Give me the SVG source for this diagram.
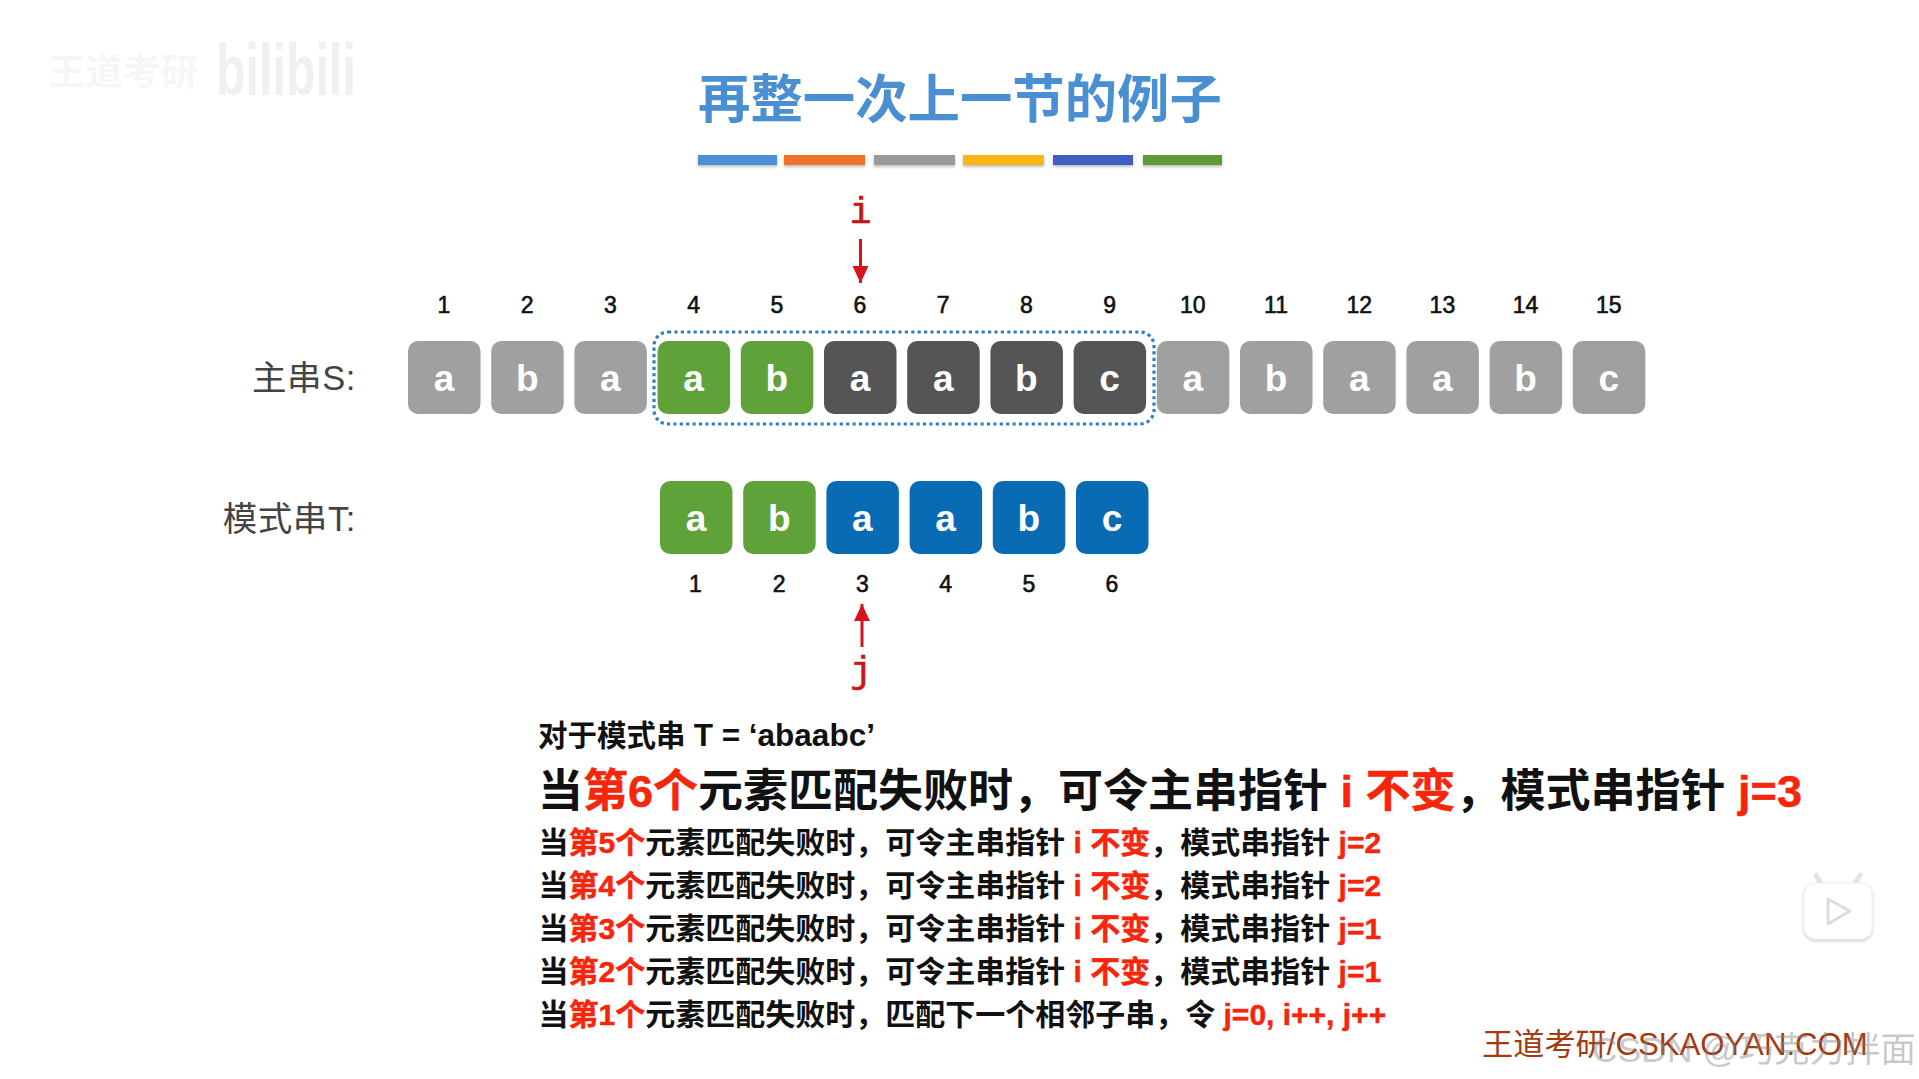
<svg xmlns="http://www.w3.org/2000/svg" width="1919" height="1079" viewBox="0 0 1919 1079">
<style>
text{font-family:"Liberation Sans","Noto Sans CJK SC",sans-serif}
.box{width:72.5px;height:73px;rx:10px;ry:10px}
.gray{fill:#a0a0a0}.green{fill:#5fa23a}.dark{fill:#555}.blue{fill:#0a6bb5}
.ch{font-size:37px;font-weight:700;fill:#fff;text-anchor:middle}
.num{font-size:23px;fill:#111;text-anchor:middle;stroke:#111;stroke-width:.6}
.lab{font-size:34.5px;fill:#444;text-anchor:end;letter-spacing:.6px}
.bar{height:10px;filter:url(#sh)}
.ptr{font-family:"Liberation Mono",monospace;font-size:36px;fill:#c8141a;text-anchor:middle;stroke:#c8141a;stroke-width:.7}
.conn{stroke:#d8141a;stroke-width:3;fill:none;marker-end:url(#ah)}
.r{fill:#f5260c;stroke:#f5260c;stroke-width:.5}
.t{font-weight:700;fill:#111}
.s{font-size:30px}
</style>
<defs>
<filter id="sh" x="-5%" y="-30%" width="110%" height="190%"><feDropShadow dx="0" dy="2" stdDeviation="1.5" flood-color="#000" flood-opacity=".25"/></filter>
<filter id="ps" x="-20%" y="-20%" width="140%" height="140%"><feDropShadow dx="0" dy="1.5" stdDeviation="1.5" flood-color="#000" flood-opacity=".22"/></filter>
<marker id="ah" markerUnits="userSpaceOnUse" markerWidth="18" markerHeight="18" refX="17" refY="8" orient="auto"><path d="M0 0L17 8L0 16Z" fill="#d8141a"/></marker>
</defs>
<rect width="1919" height="1079" fill="#fff"/>
<g id="watermark-top" opacity=".75">
<text x="48" y="85" font-size="36" font-weight="700" fill="#f3f3f3" textLength="150" lengthAdjust="spacingAndGlyphs">王道考研</text>
<text x="216" y="95" font-size="72" font-weight="700" fill="#ececec" textLength="140" lengthAdjust="spacingAndGlyphs">bilibili</text>
</g>
<g id="title">
<text x="698" y="118" font-size="52.4" font-weight="700" fill="#4a8fd2">再整一次上一节的例子</text>
<rect class="bar" x="698" y="155" width="79" fill="#4a90d6"/>
<rect class="bar" x="784" y="155" width="81" fill="#f2722a"/>
<rect class="bar" x="874" y="155" width="81" fill="#9a9a9a"/>
<rect class="bar" x="963" y="155" width="81" fill="#fdb515"/>
<rect class="bar" x="1053" y="155" width="80" fill="#3c5fc0"/>
<rect class="bar" x="1143" y="155" width="79" fill="#5d9c33"/>
</g>
<g id="label-s"><text class="lab" x="356" y="390">主串S:</text></g>
<g id="label-t"><text class="lab" x="356" y="531">模式串T:</text></g>
<g id="s1"><rect class="box gray" x="408" y="341"/><text class="ch" x="444" y="391">a</text><text class="num" x="444" y="313">1</text></g>
<g id="s2"><rect class="box gray" x="491.2" y="341"/><text class="ch" x="527.2" y="391">b</text><text class="num" x="527.2" y="313">2</text></g>
<g id="s3"><rect class="box gray" x="574.4" y="341"/><text class="ch" x="610.4" y="391">a</text><text class="num" x="610.4" y="313">3</text></g>
<g id="s4"><rect class="box green" x="657.6" y="341"/><text class="ch" x="693.6" y="391">a</text><text class="num" x="693.6" y="313">4</text></g>
<g id="s5"><rect class="box green" x="740.8" y="341"/><text class="ch" x="776.8" y="391">b</text><text class="num" x="776.8" y="313">5</text></g>
<g id="s6"><rect class="box dark" x="824" y="341"/><text class="ch" x="860" y="391">a</text><text class="num" x="860" y="313">6</text></g>
<g id="s7"><rect class="box dark" x="907.2" y="341"/><text class="ch" x="943.2" y="391">a</text><text class="num" x="943.2" y="313">7</text></g>
<g id="s8"><rect class="box dark" x="990.4" y="341"/><text class="ch" x="1026.4" y="391">b</text><text class="num" x="1026.4" y="313">8</text></g>
<g id="s9"><rect class="box dark" x="1073.6" y="341"/><text class="ch" x="1109.6" y="391">c</text><text class="num" x="1109.6" y="313">9</text></g>
<g id="s10"><rect class="box gray" x="1156.8" y="341"/><text class="ch" x="1192.8" y="391">a</text><text class="num" x="1192.8" y="313">10</text></g>
<g id="s11"><rect class="box gray" x="1240" y="341"/><text class="ch" x="1276" y="391">b</text><text class="num" x="1276" y="313">11</text></g>
<g id="s12"><rect class="box gray" x="1323.2" y="341"/><text class="ch" x="1359.2" y="391">a</text><text class="num" x="1359.2" y="313">12</text></g>
<g id="s13"><rect class="box gray" x="1406.4" y="341"/><text class="ch" x="1442.4" y="391">a</text><text class="num" x="1442.4" y="313">13</text></g>
<g id="s14"><rect class="box gray" x="1489.6" y="341"/><text class="ch" x="1525.6" y="391">b</text><text class="num" x="1525.6" y="313">14</text></g>
<g id="s15"><rect class="box gray" x="1572.8" y="341"/><text class="ch" x="1608.8" y="391">c</text><text class="num" x="1608.8" y="313">15</text></g>
<g id="window"><rect x="654" y="332" width="500" height="92" rx="14" fill="none" stroke="#2f7fc1" stroke-width="3.2" stroke-dasharray="3.2 3.2"/></g>
<g id="t1"><rect class="box green" x="660" y="481"/><text class="ch" x="696" y="531">a</text><text class="num" x="695.5" y="592">1</text></g>
<g id="t2"><rect class="box green" x="743.2" y="481"/><text class="ch" x="779.2" y="531">b</text><text class="num" x="779.2" y="592">2</text></g>
<g id="t3"><rect class="box blue" x="826.4" y="481"/><text class="ch" x="862.4" y="531">a</text><text class="num" x="862.4" y="592">3</text></g>
<g id="t4"><rect class="box blue" x="909.6" y="481"/><text class="ch" x="945.6" y="531">a</text><text class="num" x="945.6" y="592">4</text></g>
<g id="t5"><rect class="box blue" x="992.8" y="481"/><text class="ch" x="1028.8" y="531">b</text><text class="num" x="1028.8" y="592">5</text></g>
<g id="t6"><rect class="box blue" x="1076" y="481"/><text class="ch" x="1112" y="531">c</text><text class="num" x="1112" y="592">6</text></g>
<g id="pointer-i"><text class="ptr" x="860.5" y="223">i</text></g>
<g id="pointer-j"><text class="ptr" x="861" y="682">j</text></g>
<g id="connectors">
<path class="conn" d="M860.5 239V283"/>
<path class="conn" d="M862 647V604"/>
</g>
<g id="notes">
<text class="t" x="538" y="746" font-size="29.5">对于模式串 <tspan font-size="31.5">T = ‘abaabc’</tspan></text>
<text class="t" x="538" y="807" font-size="45">当<tspan class="r">第6个</tspan>元素匹配失败时，可令主串指针 <tspan class="r">i 不变</tspan>，模式串指针 <tspan class="r">j=3</tspan></text>
<text class="t s" x="538.5" y="853">当<tspan class="r">第5个</tspan>元素匹配失败时，可令主串指针 <tspan class="r">i 不变</tspan>，模式串指针 <tspan class="r">j=2</tspan></text>
<text class="t s" x="538.5" y="896">当<tspan class="r">第4个</tspan>元素匹配失败时，可令主串指针 <tspan class="r">i 不变</tspan>，模式串指针 <tspan class="r">j=2</tspan></text>
<text class="t s" x="538.5" y="939">当<tspan class="r">第3个</tspan>元素匹配失败时，可令主串指针 <tspan class="r">i 不变</tspan>，模式串指针 <tspan class="r">j=1</tspan></text>
<text class="t s" x="538.5" y="982">当<tspan class="r">第2个</tspan>元素匹配失败时，可令主串指针 <tspan class="r">i 不变</tspan>，模式串指针 <tspan class="r">j=1</tspan></text>
<text class="t s" x="538.5" y="1025">当<tspan class="r">第1个</tspan>元素匹配失败时，匹配下一个相邻子串，令 <tspan class="r">j=0, i++, j++</tspan></text>
</g>
<g id="play-icon">
<path d="M1821 884L1816 875M1855 884L1860 875" stroke="#e4e4e4" stroke-width="5" stroke-linecap="round" fill="none"/>
<rect x="1804" y="883" width="68" height="56" rx="11" fill="#fff" stroke="#efefef" stroke-width="1" filter="url(#ps)"/>
<path d="M1828 899L1850 911L1828 924Z" fill="#fff" stroke="#dcdcdc" stroke-width="3" stroke-linejoin="round"/>
</g>
<g id="footer">
<text x="1482" y="1055" font-size="31.2" fill="#a33a10">王道考研/CSKAOYAN.COM</text>
<text x="1592" y="1062" font-size="35.5" fill="#888" opacity=".45">CSDN @巧克力拌面</text>
</g>
</svg>
